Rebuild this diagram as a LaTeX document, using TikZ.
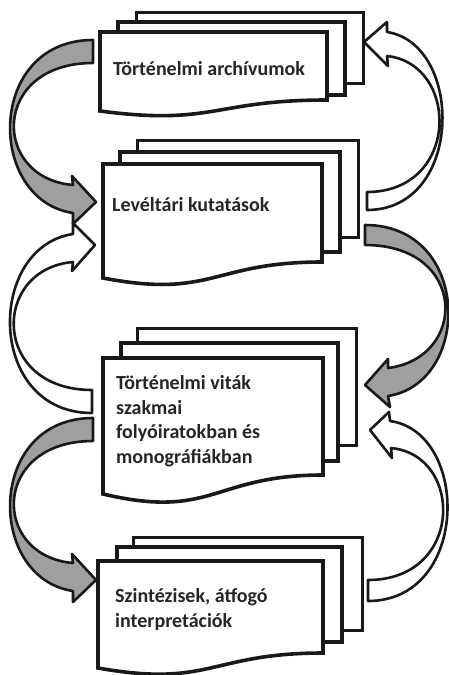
\documentclass[tikz,border=0pt]{standalone}
\usepackage{fontspec}
\setmainfont{Carlito}
\usepackage{tikz}

\tikzset{
  sheet/.style={draw=black!90, line width=3.6pt, fill=white},
  backsheet/.style={sheet, line width=3pt},
  grayarrow/.style={draw=black!90, line width=2.6pt, fill=gray!75, line join=round},
  whitearrow/.style={draw=black!90, line width=2.6pt, fill=white, line join=round},
  boxtext/.style={anchor=base west, align=left, inner sep=0pt, text=black!85,
    font=\bfseries\fontsize{20}{24.5}\selectfont}
}

\begin{document}
\begin{tikzpicture}[x=1pt, y=-1pt]
\fill[white] (0,0) rectangle (449,675);
\useasboundingbox (0,0) rectangle (449,675);

% arrows on the left
\draw [grayarrow] (93,40) .. controls (-14,40) and (-14,200) .. (73,213) -- (73,224) -- (96,202)
  -- (72,176) -- (73,185) .. controls (-9,178) and (-9,63) .. (93,63) -- cycle;
\draw [whitearrow] (92,413) .. controls (-14,413) and (-14,247) .. (73,234) -- (73,223) -- (95,245)
  -- (72,271) -- (73,262) .. controls (-9,269) and (-9,390) .. (92,390) -- cycle;
\draw [grayarrow] (93,418) .. controls (-14,418) and (-14,578) .. (73,591) -- (73,602) -- (96,580)
  -- (72,554) -- (73,563) .. controls (-9,556) and (-9,441) .. (93,441) -- cycle;

% arrows on the right
\draw [whitearrow] (367,210) .. controls (464,210) and (464,44) .. (387,32) -- (387,22) -- (364,42)
  -- (388,66) -- (387,56) .. controls (460,64) and (460,192) .. (367,192) -- cycle;
\draw [grayarrow] (365,225) .. controls (472,225) and (472,383) .. (388,396) -- (390,407) -- (365,385)
  -- (388,359) -- (388,368) .. controls (468,358) and (468,245) .. (365,245) -- cycle;
\draw [whitearrow] (368,601) .. controls (470,601) and (470,432) .. (390,421) -- (389,412) -- (370,430)
  -- (392,458) -- (391,448) .. controls (464,455) and (464,580) .. (368,580) -- cycle;

% box 1
\draw [backsheet] (136,12) rectangle (363,83);
\draw [sheet] (118,22) rectangle (345,95);
\draw [sheet] (100,32) -- (327,32) -- (327,100) .. controls (213.5,100) and (213.5,126) .. (100,111) -- cycle;
\node [boxtext] (archiv) at (113,75) {Történelmi archívumok};

% box 2
\draw [backsheet] (137,140) rectangle (358,237);
\draw [sheet] (120,152) rectangle (340,252);
\draw [sheet] (103,164) -- (322,164) -- (322,262) .. controls (212.5,262) and (212.5,299) .. (103,278) -- cycle;
\node [boxtext] (kutatas) at (112,211) {Levéltári kutatások};

% box 3
\draw [backsheet] (137,328) rectangle (356,445);
\draw [sheet] (121,343) rectangle (338,461);
\draw [sheet] (103,358) -- (323,358) -- (323,475) .. controls (213,475) and (213,520) .. (103,494) -- cycle;
\node [boxtext] (vitak) at (116,463) {Történelmi viták\\szakmai\\folyóiratokban és\\monográfiákban};

% box 4
\draw [backsheet] (133,537) rectangle (362,630);
\draw [sheet] (117,547) rectangle (342,642);
\draw [sheet] (98,561) -- (323,561) -- (323,653) .. controls (210.5,653) and (210.5,688) .. (98,668) -- cycle;
\node [boxtext] (szintezis) at (115,627) {Szintézisek, átfogó\\interpretációk};

\end{tikzpicture}
\end{document}
